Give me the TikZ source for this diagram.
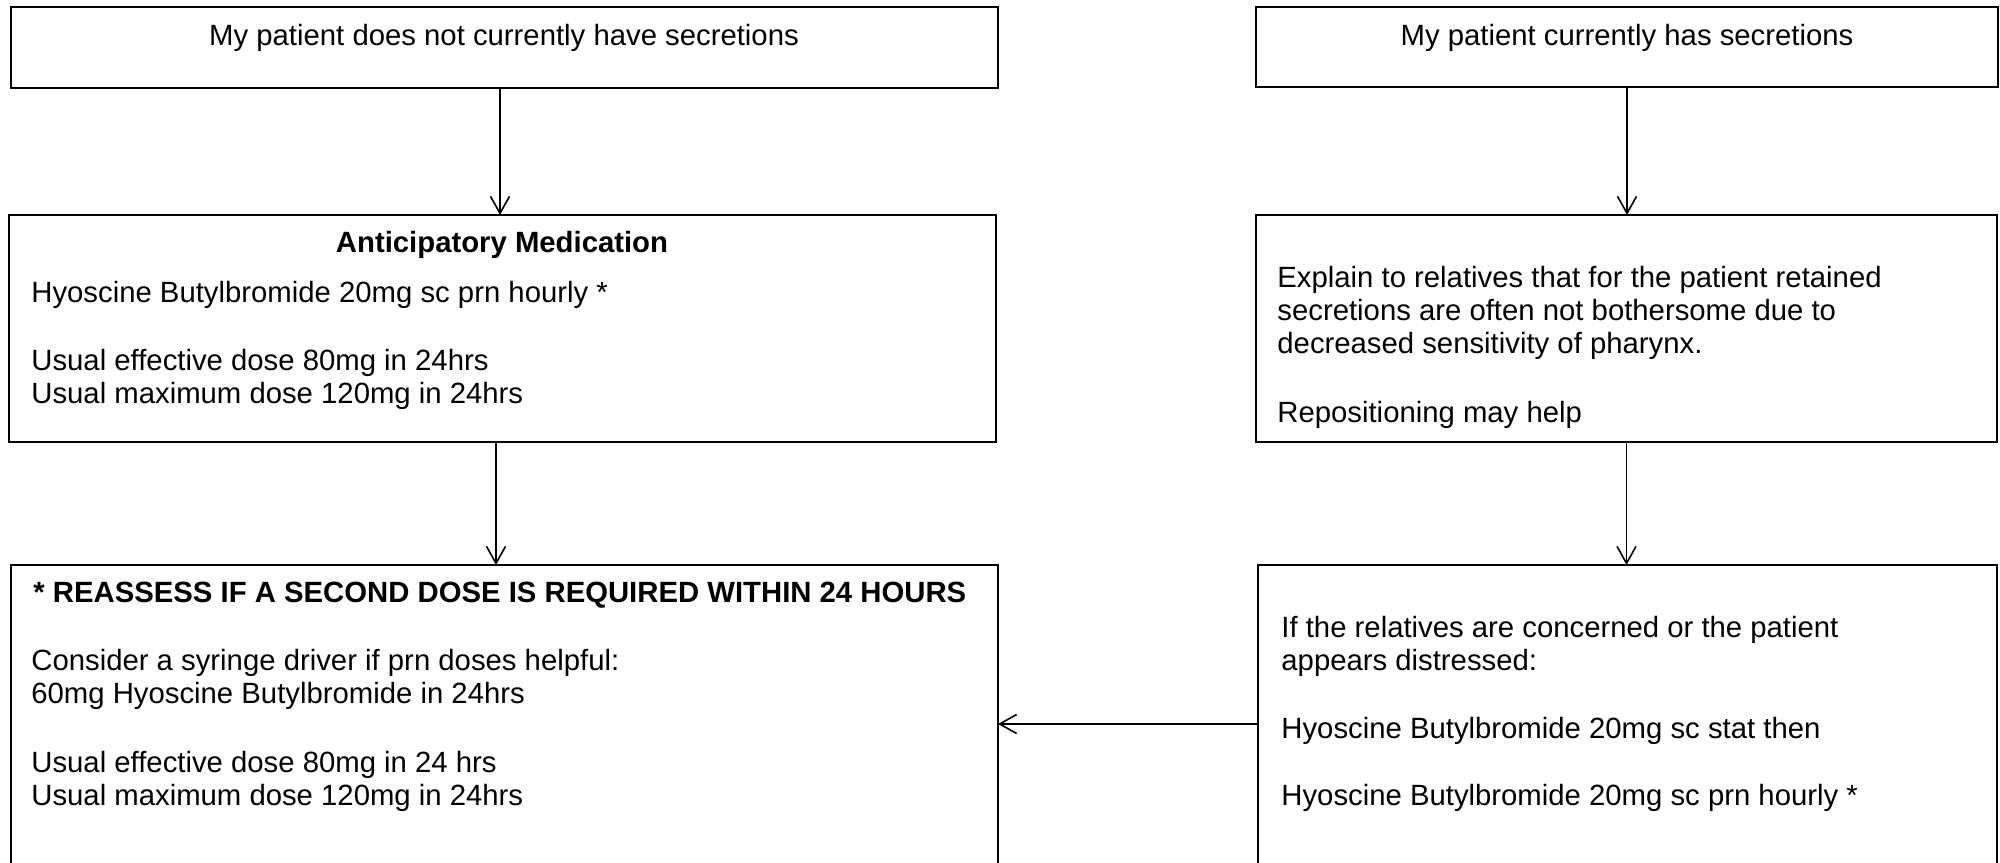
\documentclass[tikz,border=0pt]{standalone}
\usepackage{fontspec}
\setmainfont{Liberation Sans}
\usetikzlibrary{arrows.meta}
\begin{document}
\begin{tikzpicture}[x=0.5pt,y=-0.5pt,
  box/.style={draw,line width=1.1pt,anchor=north west,inner sep=0pt,outer sep=0pt},
  txt/.style={inner sep=0pt,anchor=base west,font=\fontsize{14.65pt}{17pt}\selectfont},
  ttl/.style={inner sep=0pt,anchor=base,font=\fontsize{14.65pt}{17pt}\selectfont\bfseries},
  bld/.style={inner sep=0pt,anchor=base west,font=\fontsize{14.65pt}{17pt}\selectfont\bfseries},
  ctr/.style={inner sep=0pt,anchor=base,font=\fontsize{14.65pt}{17pt}\selectfont},
  conn/.style={line width=0.8pt,-{Straight Barb[length=8.5pt,width=9.5pt]}}]
\useasboundingbox (0,0) rectangle (2000,862);
% boxes
\node[box,minimum width=493.5pt,minimum height=40.5pt] (b1) at (11,7) {};
\node[box,minimum width=493.5pt,minimum height=113.5pt] (b2) at (9,215) {};
\node[box,minimum width=371pt,minimum height=40pt] (b3) at (1256,7) {};
\node[box,minimum width=370.5pt,minimum height=113.5pt] (b4) at (1256,215) {};
\node[box,minimum width=493.5pt,minimum height=180pt] (b5) at (11,565) {};
\node[box,minimum width=369.5pt,minimum height=180pt] (b6) at (1258,565) {};
% texts
\node[ctr] (t1) at (504,45) {My patient does not currently have secretions};
\node[ctr] (t3) at (1627,45) {My patient currently has secretions};
\node[ttl] (t2a) at (502,252) {Anticipatory Medication};
\node[txt] (t2b) at (31,302) {Hyoscine Butylbromide 20mg sc prn hourly *};
\node[txt] (t2c) at (31,370) {Usual effective dose 80mg in 24hrs};
\node[txt] (t2d) at (31,403) {Usual maximum dose 120mg in 24hrs};
\node[txt] (t4a) at (1277,287) {Explain to relatives that for the patient retained};
\node[txt] (t4b) at (1277,320) {secretions are often not bothersome due to};
\node[txt] (t4c) at (1277,353) {decreased sensitivity of pharynx.};
\node[txt] (t4d) at (1277,422) {Repositioning may help};
\node[bld] (t5a) at (33,602) {* REASSESS IF A SECOND DOSE IS REQUIRED WITHIN 24 HOURS};
\node[txt] (t5b) at (31,670) {Consider a syringe driver if prn doses helpful:};
\node[txt] (t5c) at (31,703) {60mg Hyoscine Butylbromide in 24hrs};
\node[txt] (t5d) at (31,772) {Usual effective dose 80mg in 24 hrs};
\node[txt] (t5e) at (31,805) {Usual maximum dose 120mg in 24hrs};
\node[txt] (t6a) at (1281,637) {If the relatives are concerned or the patient};
\node[txt] (t6b) at (1281,670) {appears distressed:};
\node[txt] (t6c) at (1281,738) {Hyoscine Butylbromide 20mg sc stat then};
\node[txt] (t6d) at (1281,805) {Hyoscine Butylbromide 20mg sc prn hourly *};
% connectors
\coordinate (h) at (0,724);
\coordinate (xa) at (500,0);
\coordinate (xb) at (496,0);
\draw[conn] (b1.south -| xa) -- (b2.north -| xa);
\draw[conn] (b2.south -| xb) -- (b5.north -| xb);
\draw[conn] (b3.south) -- (b3.south |- b4.north);
\draw[conn] (b4.south) -- (b4.south |- b6.north);
\draw[conn] (b6.west |- h) -- (b5.east |- h);
\end{tikzpicture}
\end{document}
